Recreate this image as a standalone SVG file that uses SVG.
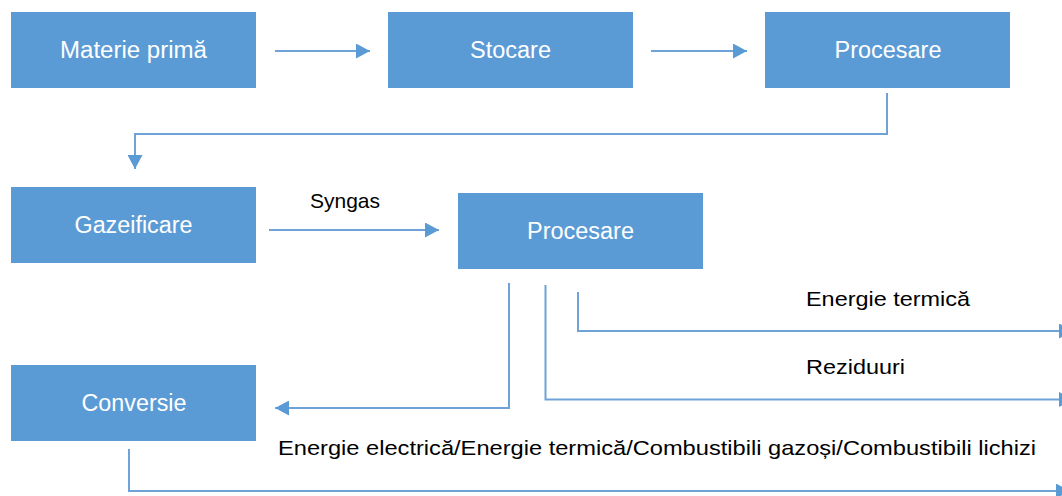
<svg xmlns="http://www.w3.org/2000/svg" width="1062" height="496" viewBox="0 0 1062 496">
<style>
.box{fill:#5B9BD5}
.lbl{font-family:"Liberation Sans",Arial,sans-serif;font-size:23px;fill:#ffffff;text-anchor:middle}
.txt{font-family:"Liberation Sans",Arial,sans-serif;font-size:21px;fill:#000000}
.con{fill:none;stroke:#6FA3D8;stroke-width:2}
</style>
<defs>
<marker id="ah" markerUnits="userSpaceOnUse" markerWidth="14" markerHeight="15" refX="14" refY="7.5" orient="auto" viewBox="0 0 14 15">
<path d="M0,0 L14,7.5 L0,15 Z" fill="#5B9BD5"/>
</marker>
</defs>
<rect width="1062" height="496" fill="#ffffff"/>
<g id="n-materie"><rect class="box" x="11" y="12" width="245" height="76"/><text class="lbl" x="133.5" y="58" textLength="147" lengthAdjust="spacingAndGlyphs">Materie primă</text></g>
<g id="n-stocare"><rect class="box" x="388" y="12" width="245" height="76"/><text class="lbl" x="510.5" y="58" textLength="81" lengthAdjust="spacingAndGlyphs">Stocare</text></g>
<g id="n-procesare1"><rect class="box" x="765" y="12" width="245" height="76"/><text class="lbl" x="888" y="58" textLength="107" lengthAdjust="spacingAndGlyphs">Procesare</text></g>
<g id="n-gazeificare"><rect class="box" x="11" y="187" width="245" height="76"/><text class="lbl" x="133.5" y="233" textLength="118" lengthAdjust="spacingAndGlyphs">Gazeificare</text></g>
<g id="n-procesare2"><rect class="box" x="458" y="193" width="245" height="76"/><text class="lbl" x="580.5" y="239" textLength="107" lengthAdjust="spacingAndGlyphs">Procesare</text></g>
<g id="n-conversie"><rect class="box" x="11" y="365" width="245" height="76"/><text class="lbl" x="134" y="411" textLength="105" lengthAdjust="spacingAndGlyphs">Conversie</text></g>
<g id="connectors">
<path class="con" d="M275,51 H370" marker-end="url(#ah)"/>
<path class="con" d="M651,51 H747" marker-end="url(#ah)"/>
<path class="con" d="M887,93 V134 H135 V169" marker-end="url(#ah)"/>
<path class="con" d="M269,230 H439" marker-end="url(#ah)"/>
<path class="con" d="M509,283 V408 H275" marker-end="url(#ah)"/>
<path class="con" d="M545.5,285 V399.5 H1073" marker-end="url(#ah)"/>
<path class="con" d="M578,292 V331 H1073" marker-end="url(#ah)"/>
<path class="con" d="M129,449 V491 H1070" marker-end="url(#ah)"/>
</g>
<g id="labels">
<text class="txt" x="310" y="208" textLength="70" lengthAdjust="spacingAndGlyphs">Syngas</text>
<text class="txt" x="806" y="306" textLength="164" lengthAdjust="spacingAndGlyphs">Energie termică</text>
<text class="txt" x="806" y="374" textLength="99" lengthAdjust="spacingAndGlyphs">Reziduuri</text>
<text class="txt" x="278" y="455" textLength="758" lengthAdjust="spacingAndGlyphs">Energie electrică/Energie termică/Combustibili gazoși/Combustibili lichizi</text>
</g>
</svg>
